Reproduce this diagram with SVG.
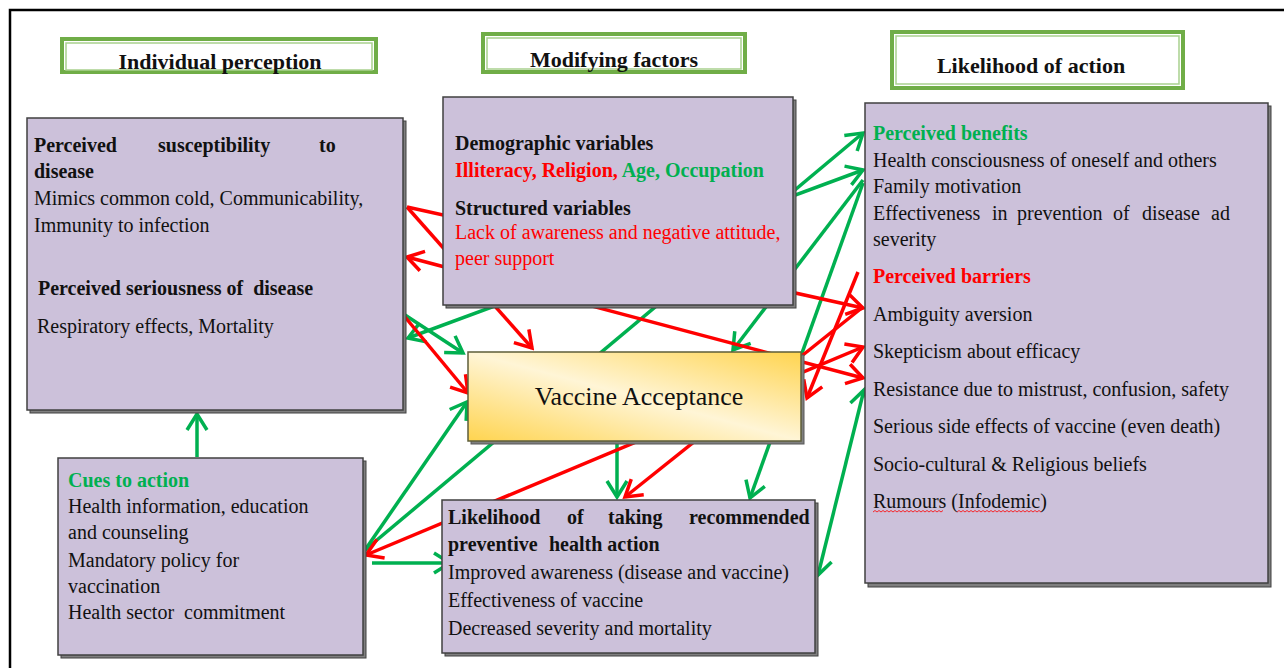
<svg xmlns="http://www.w3.org/2000/svg" width="1284" height="668" viewBox="0 0 1284 668">
<style>
.t{font-family:"Liberation Serif","Times New Roman",serif;font-size:20px;fill:#111}
.b{font-weight:bold}
.gt{fill:#00B050}
.rt{fill:#FF0000}
.h{font-size:22px;font-weight:bold;text-anchor:middle}
.box{fill:#CCC1DA;stroke:#404040;stroke-width:1.5}
.sh{fill:#7F7F7F;stroke:#404040;stroke-width:1}
.hb{fill:#fff;stroke:#70AD47;stroke-width:4}
.hi{fill:none;stroke:#A9D18E;stroke-width:1.5}
.g{fill:none;stroke:#00B050;stroke-width:3.5}
.r{fill:none;stroke:#FF0000;stroke-width:3.5}
</style>
<defs>
<marker id="ag" markerUnits="userSpaceOnUse" viewBox="0 0 22 24" markerWidth="22" markerHeight="24" refX="19" refY="12" orient="auto-start-reverse">
<path d="M3,2 L19,12 L3,22" fill="none" stroke="#00B050" stroke-width="3.5"/>
</marker>
<marker id="ar" markerUnits="userSpaceOnUse" viewBox="0 0 22 24" markerWidth="22" markerHeight="24" refX="19" refY="12" orient="auto-start-reverse">
<path d="M3,2 L19,12 L3,22" fill="none" stroke="#FF0000" stroke-width="3.5"/>
</marker>
<linearGradient id="va" x1="1" y1="0" x2="0" y2="1">
<stop offset="0" stop-color="#FFD44F"/>
<stop offset="0.5" stop-color="#FFF5D6"/>
<stop offset="1" stop-color="#FFD44F"/>
</linearGradient>
</defs>
<rect width="1284" height="668" fill="#fff"/>
<path d="M10,668 V10 H1284" fill="none" stroke="#000" stroke-width="2.5"/>

<g id="connectors">
<path class="g" d="M197,457 L197,414" marker-end="url(#ag)"/>
<path class="g" d="M365,550 L467,402" marker-end="url(#ag)"/>
<path class="g" d="M365,550 L863,133" marker-end="url(#ag)"/>
<path class="g" d="M372,563 L450,563" marker-end="url(#ag)"/>
<path class="g" d="M405,315 L463,353" marker-end="url(#ag)"/>
<path class="g" d="M408,338 L863,170" marker-start="url(#ag)" marker-end="url(#ag)"/>
<path class="g" d="M863,180 L733,350" marker-end="url(#ag)"/>
<path class="g" d="M863,183 L750,498" marker-end="url(#ag)"/>
<path class="g" d="M617,441 L617,497" marker-end="url(#ag)"/>
<path class="g" d="M818,575 L864,390" marker-start="url(#ag)" marker-end="url(#ag)"/>
<path class="r" d="M407,207 L863,308" marker-end="url(#ar)"/>
<path class="r" d="M407,207 L532,348" marker-end="url(#ar)"/>
<path class="r" d="M407,257 L863,378" marker-start="url(#ar)" marker-end="url(#ar)"/>
<path class="r" d="M405,317 L468,393" marker-end="url(#ar)"/>
<path class="r" d="M366,555 L863,347" marker-start="url(#ar)" marker-end="url(#ar)"/>
<path class="r" d="M863,307 L625,497" marker-end="url(#ar)"/>
<path class="r" d="M858,272 L807,398" marker-end="url(#ar)"/>
</g>

<g id="hdr-individual">
<rect class="hb" x="62" y="39" width="314" height="33"/>
<rect class="hi" x="66" y="43" width="306" height="27"/>
<text class="t h" x="220" y="69">Individual perception</text>
</g>
<g id="hdr-modifying">
<rect class="hb" x="483" y="34" width="262" height="38"/>
<rect class="hi" x="487" y="38" width="254" height="31"/>
<text class="t h" x="614" y="67">Modifying factors</text>
</g>
<g id="hdr-likelihood">
<rect class="hb" x="892" y="32" width="291" height="56"/>
<rect class="hi" x="896" y="36" width="283" height="48"/>
<text class="t h" x="1031" y="73">Likelihood of action</text>
</g>

<g id="individual-perception">
<rect class="sh" x="30" y="121" width="376" height="292"/>
<rect class="box" x="27" y="118" width="376" height="292"/>
<text class="t b" y="152"><tspan x="34">Perceived</tspan><tspan x="158">susceptibility</tspan><tspan x="319">to</tspan></text>
<text class="t b" x="34" y="178">disease</text>
<text class="t" x="34" y="205">Mimics common cold, Communicability,</text>
<text class="t" x="34" y="232">Immunity to infection</text>
<text class="t b" x="38" y="295" xml:space="preserve">Perceived seriousness of  disease</text>
<text class="t" x="37" y="333">Respiratory effects, Mortality</text>
</g>

<g id="modifying-factors">
<rect class="sh" x="446" y="100" width="350" height="208"/>
<rect class="box" x="443" y="97" width="350" height="208"/>
<text class="t b" x="455" y="150">Demographic variables</text>
<text class="t b" x="455" y="177"><tspan class="rt">Illiteracy, Religion,</tspan> <tspan class="gt">Age, Occupation</tspan></text>
<text class="t b" x="455" y="215">Structured variables</text>
<text class="t rt" x="455" y="239">Lack of awareness and negative attitude,</text>
<text class="t rt" x="455" y="265">peer support</text>
</g>

<g id="likelihood-of-action">
<rect class="sh" x="868" y="106" width="403" height="481"/>
<rect class="box" x="865" y="103" width="403" height="480"/>
<text class="t b gt" x="873" y="140">Perceived benefits</text>
<text class="t" x="873" y="167">Health consciousness of oneself and others</text>
<text class="t" x="873" y="193">Family motivation</text>
<text class="t" y="220"><tspan x="873">Effectiveness</tspan><tspan x="992">in</tspan><tspan x="1017">prevention</tspan><tspan x="1113">of</tspan><tspan x="1142">disease</tspan><tspan x="1211">ad</tspan></text>
<text class="t" x="873" y="246">severity</text>
<text class="t b rt" x="873" y="283">Perceived barriers</text>
<text class="t" x="873" y="321">Ambiguity aversion</text>
<text class="t" x="873" y="358">Skepticism about efficacy</text>
<text class="t" x="873" y="396">Resistance due to mistrust, confusion, safety</text>
<text class="t" x="873" y="433">Serious side effects of vaccine (even death)</text>
<text class="t" x="873" y="471">Socio-cultural &amp; Religious beliefs</text>
<text class="t" x="873" y="508">Rumours (Infodemic)</text>
<path d="M873,512 l2,-1.5 l2,1.5 l2,-1.5 l2,1.5 l2,-1.5 l2,1.5 l2,-1.5 l2,1.5 l2,-1.5 l2,1.5 l2,-1.5 l2,1.5 l2,-1.5 l2,1.5 l2,-1.5 l2,1.5 l2,-1.5 l2,1.5 l2,-1.5 l2,1.5 l2,-1.5 l2,1.5 l2,-1.5 l2,1.5 l2,-1.5 l2,1.5 l2,-1.5 l2,1.5 l2,-1.5 l2,1.5 l2,-1.5 l2,1.5 l2,-1.5 l2,1.5 l2,-1.5 M957,512 l2,-1.5 l2,1.5 l2,-1.5 l2,1.5 l2,-1.5 l2,1.5 l2,-1.5 l2,1.5 l2,-1.5 l2,1.5 l2,-1.5 l2,1.5 l2,-1.5 l2,1.5 l2,-1.5 l2,1.5 l2,-1.5 l2,1.5 l2,-1.5 l2,1.5 l2,-1.5 l2,1.5 l2,-1.5 l2,1.5 l2,-1.5 l2,1.5 l2,-1.5 l2,1.5 l2,-1.5 l2,1.5 l2,-1.5 l2,1.5 l2,-1.5 l2,1.5 l2,-1.5 l2,1.5 l2,-1.5 l2,1.5 l2,-1.5 l2,1.5 l2,-1.5 l2,1.5" fill="none" stroke="#FF0000" stroke-width="0.8"/>
</g>

<g id="vaccine-acceptance">
<rect x="471" y="355" width="333" height="89" fill="#7F7F7F" stroke="#595959" stroke-width="1"/>
<rect x="468" y="352" width="333" height="89" fill="url(#va)" stroke="#5E5E3A" stroke-width="1.5"/>
<text class="t" x="639" y="405" text-anchor="middle" style="font-size:26px">Vaccine Acceptance</text>
</g>

<g id="cues-to-action">
<rect class="sh" x="61" y="461" width="305" height="197"/>
<rect class="box" x="58" y="458" width="305" height="197"/>
<text class="t b gt" x="68" y="487">Cues to action</text>
<text class="t" x="68" y="513">Health information, education</text>
<text class="t" x="68" y="539">and counseling</text>
<text class="t" x="68" y="567">Mandatory policy for</text>
<text class="t" x="68" y="593">vaccination</text>
<text class="t" x="68" y="619" xml:space="preserve">Health sector  commitment</text>
</g>

<g id="preventive-action">
<rect class="sh" x="445" y="503" width="373" height="153"/>
<rect class="box" x="442" y="500" width="373" height="153"/>
<text class="t b" y="524"><tspan x="448">Likelihood</tspan><tspan x="567">of</tspan><tspan x="608">taking</tspan><tspan x="689">recommended</tspan></text>
<text class="t b" y="551"><tspan x="448">preventive</tspan><tspan x="549">health action</tspan></text>
<text class="t" x="448" y="579">Improved awareness (disease and vaccine)</text>
<text class="t" x="448" y="607">Effectiveness of vaccine</text>
<text class="t" x="448" y="635">Decreased severity and mortality</text>
</g>
</svg>
